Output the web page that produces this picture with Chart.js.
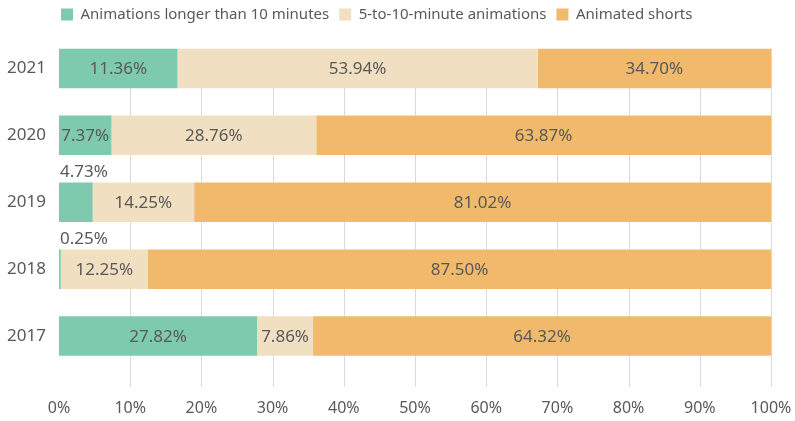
<!DOCTYPE html>
<html>
<head>
<meta charset="utf-8">
<script src="https://cdn.jsdelivr.net/npm/chart.js@4/dist/chart.umd.min.js"></script>
<style>
  html, body { margin: 0; padding: 0; background: #fff; }
  #wrap { width: 795px; height: 421px; }
</style>
</head>
<body>
<div id="wrap"><canvas id="animation-share"></canvas></div>
<script>
// categories top to bottom
var years = ['2021', '2020', '2019', '2018', '2017'];

// bar lengths (percent of total)
var longAnim = [16.64, 7.37, 4.73, 0.25, 27.82];
var midAnim = [50.61, 28.76, 14.25, 12.25, 7.86];
var shorts = [32.75, 63.87, 81.02, 87.50, 64.32];

// printed labels on each segment
var longText = ['11.36%', '7.37%', '4.73%', '0.25%', '27.82%'];
var midText = ['53.94%', '28.76%', '14.25%', '12.25%', '7.86%'];
var shortsText = ['34.70%', '63.87%', '81.02%', '87.50%', '64.32%'];

var xTicks = [0, 10, 20, 30, 40, 50, 60, 70, 80, 90, 100];

var textColor = '#595959';
var fontFamily = '"Noto Sans", sans-serif';

var segmentLabels = {
    id: 'segmentLabels',
    afterDatasetsDraw: function(chart) {
        var ctx = chart.ctx;
        var texts = [longText, midText, shortsText];
        ctx.save();
        ctx.fillStyle = textColor;
        ctx.font = '17px ' + fontFamily;
        ctx.textBaseline = 'middle';
        chart.data.datasets.forEach(function(ds, i) {
            var meta = chart.getDatasetMeta(i);
            meta.data.forEach(function(bar, j) {
                var val = ds.data[j];
                if (val < 6) {
                    ctx.textAlign = 'left';
                    ctx.fillText(texts[i][j], bar.base + 1, bar.y - bar.height / 2 - 10);
                } else {
                    ctx.textAlign = 'center';
                    ctx.fillText(texts[i][j], (bar.base + bar.x) / 2, bar.y + 1);
                }
            });
        });
        ctx.restore();
    }
};

var gridLines = {
    id: 'gridLines',
    beforeDatasetsDraw: function(chart) {
        var ctx = chart.ctx;
        var x = chart.scales.x;
        var first = chart.getDatasetMeta(0).data[0];
        var top = first.y - first.height / 2;
        var bottom = chart.chartArea.bottom + 17;
        ctx.save();
        ctx.strokeStyle = '#d9d9d9';
        ctx.lineWidth = 1;
        xTicks.forEach(function(t) {
            if (t === 0) return;
            var px = Math.round(x.getPixelForValue(t)) + 0.5;
            ctx.beginPath();
            ctx.moveTo(px, top);
            ctx.lineTo(px, bottom);
            ctx.stroke();
        });
        ctx.restore();
    }
};

var legendShift = {
    id: 'legendShift',
    afterLayout: function(chart) {
        chart.legend.left = 51;
        chart.legend.top = -3;
    }
};

document.addEventListener("DOMContentLoaded", function() {
    var ctx = document.getElementById('animation-share').getContext('2d');
    var shareChart = new Chart(ctx, {
        type: 'bar',
        data: {
            labels: years,
            datasets: [{
                label: 'Animations longer than 10 minutes',
                data: longAnim,
                backgroundColor: '#7ecaae'
            }, {
                label: '5-to-10-minute animations',
                data: midAnim,
                backgroundColor: '#f1dfc2'
            }, {
                label: 'Animated shorts',
                data: shorts,
                backgroundColor: '#f0b96b'
            }]
        },
        plugins: [gridLines, segmentLabels, legendShift],
        options: {
            indexAxis: 'y',
            responsive: true,
            maintainAspectRatio: false,
            animation: false,
            layout: {
                padding: { left: 0, right: 24, top: 0, bottom: 0 }
            },
            datasets: {
                bar: {
                    categoryPercentage: 1,
                    barPercentage: 0.59,
                    borderWidth: 0
                }
            },
            scales: {
                x: {
                    stacked: true,
                    min: 0,
                    max: 100,
                    grid: { display: false, drawTicks: false },
                    border: { display: false },
                    afterFit: function(scale) {
                        scale.height = 51.5;
                        scale.paddingLeft = 0;
                        scale.paddingRight = 0;
                    },
                    ticks: {
                        stepSize: 10,
                        padding: 29,
                        color: textColor,
                        font: { family: fontFamily, size: 16 },
                        callback: function(v) { return v + '%'; }
                    }
                },
                y: {
                    stacked: true,
                    grid: { display: false, drawTicks: false },
                    border: { display: false },
                    afterFit: function(scale) { scale.width = 59; },
                    ticks: {
                        padding: 13,
                        color: textColor,
                        font: { family: fontFamily, size: 17 }
                    }
                }
            },
            plugins: {
                legend: {
                    position: 'top',
                    align: 'start',
                    labels: {
                        boxWidth: 12,
                        boxHeight: 12,
                        padding: 10,
                        color: textColor,
                        font: { family: fontFamily, size: 15 }
                    }
                },
                tooltip: { enabled: false }
            }
        }
    });
});
</script>
</body>
</html>
